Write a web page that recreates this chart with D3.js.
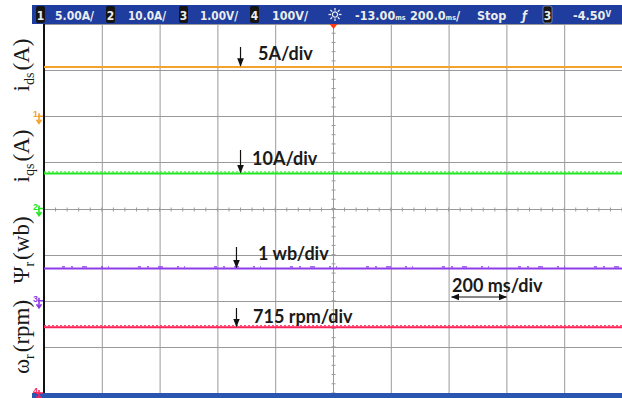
<!DOCTYPE html>
<meta charset="utf-8">
<style>
body { margin: 0; background: #fff; }
svg { display: block; }
.grid line { stroke: #9a9a9a; stroke-width: 1; }
.hdr { font: bold 12.5px "DejaVu Sans Condensed", sans-serif; fill: #ececec; }
.ann { font: bold 18px Lato, sans-serif; fill: #1a1a1a; }
.ylab { font: 23px "Liberation Serif", serif; fill: #1a1a1a; }
</style>
<body>
<svg width="622" height="398"></svg>
<script src="https://d3js.org/d3.v7.min.js"></script>
<script>
// channel info, as shown on the scope
var channels = ["1", "2", "3", "4"];
var chColors = ["#f5a32c", "#22e622", "#8c3ce8", "#ff2257"];
var boxDigitColors = ["#d8d800", "#22cc22", "#2a3a9a", "#ee2222"];
var scaleLabels = ["5.00A/", "10.0A/", "1.00V/", "100V/"];
var statusLabels = ["-13.00", "200.0", "Stop", "\u0192", "3", "-4.50"];

// traces: value in physical units, scale per division, ground marker (div)
var traceNames = ["ids", "iqs", "psi", "wr"];
var perDiv = [5, 10, 1, 715];
var groundDiv = [2, 0, -2, -4];
var ids = [[0, 5.35], [10, 5.35]];
var iqs = [[0, 7.6], [10, 7.6]];
var psi = [[0, 0.70], [10, 0.70]];
var wr = [[0, 1020], [10, 1020]];
var traces = [ids, iqs, psi, wr];

var annLabels = ["5A/div", "10A/div", "1 wb/div", "715 rpm/div"];
var timeLabel = "200 ms/div";
var yLabels = [["i", "ds", "(A)"], ["i", "qs", "(A)"], ["\u03a8", "r", "(wb)"], ["\u03c9", "r", "(rpm)"]];

var xTicks = [0, 1, 2, 3, 4, 5, 6, 7, 8, 9, 10];
var yTicks = [-4, -3, -2, -1, 0, 1, 2, 3, 4];

var svg = d3.select("svg");
var x = d3.scaleLinear().domain([0, 10]).range([44, 622]);
var y = d3.scaleLinear().domain([-4, 4]).range([393, 24]);

// grid
var grid = svg.append("g").attr("class", "grid");
grid.selectAll(".v").data(xTicks).enter().append("line")
    .attr("x1", function(d) { return x(d) + 0.5; }).attr("x2", function(d) { return x(d) + 0.5; })
    .attr("y1", y(4)).attr("y2", y(-4));
grid.selectAll(".h").data(yTicks).enter().append("line")
    .attr("y1", function(d) { return Math.round(y(d)) + 0.5; }).attr("y2", function(d) { return Math.round(y(d)) + 0.5; })
    .attr("x1", x(0)).attr("x2", x(10));

// minor ticks on the centre lines
var cx = x(5) + 0.5, cy = Math.round(y(0)) + 0.5;
grid.selectAll(".mx").data(d3.range(0, 10.001, 0.2)).enter().append("line")
    .attr("x1", function(d) { return x(d); }).attr("x2", function(d) { return x(d); })
    .attr("y1", cy - 2).attr("y2", cy + 2);
grid.selectAll(".my").data(d3.range(-4, 4.001, 0.2)).enter().append("line")
    .attr("y1", function(d) { return y(d); }).attr("y2", function(d) { return y(d); })
    .attr("x1", cx - 2).attr("x2", cx + 2);

// left frame
svg.append("line").attr("x1", 44).attr("x2", 44).attr("y1", 24).attr("y2", 393)
    .attr("stroke", "#111").attr("stroke-width", 2);

// traces
var line = d3.line()
    .x(function(d) { return x(d[0]); });
traces.forEach(function(tr, i) {
  line.y(function(d) { return y(groundDiv[i] + d[1] / perDiv[i]); });
  svg.append("path").attr("d", line(tr)).attr("fill", "none")
      .attr("stroke", chColors[i]).attr("stroke-width", 2);
  // ripple texture
  if (i == 1 || i == 3) {
    svg.append("path").attr("d", line(tr)).attr("fill", "none")
        .attr("transform", "translate(0,-1.5)")
        .attr("stroke", chColors[i]).attr("stroke-width", 1)
        .attr("stroke-dasharray", "2,2");
  }
  if (i == 2) {
    svg.append("path").attr("d", line(tr)).attr("fill", "none")
        .attr("transform", "translate(0,-1.5)")
        .attr("stroke", chColors[i]).attr("stroke-width", 1.2)
        .attr("stroke-dasharray", "0,18,3,6,2,9,5,14,2,5,1,11");
  }
});

// header bar
svg.append("rect").attr("x", 32).attr("y", 5).attr("width", 590).attr("height", 19).attr("fill", "#1e3d9f");
var boxX = [36, 106, 179, 250];
var textX = [55, 128, 200, 272];
var textW = [39, 38, 38, 36];
channels.forEach(function(c, i) {
  svg.append("rect").attr("x", boxX[i]).attr("y", 6).attr("width", 9).attr("height", 17).attr("rx", 2).attr("fill", "#151515");
  svg.append("text").attr("class", "hdr").attr("x", boxX[i] + 4.5).attr("y", 19.5)
      .attr("text-anchor", "middle").style("font-size", "12px").attr("fill", boxDigitColors[i]).text(c);
  svg.append("text").attr("class", "hdr").attr("x", textX[i]).attr("y", 19.5)
      .attr("textLength", textW[i]).attr("lengthAdjust", "spacingAndGlyphs").text(scaleLabels[i]);
});
// sun icon
var sun = svg.append("g").attr("transform", "translate(335,14.5)").attr("stroke", "#ececec").attr("stroke-width", 1.3);
sun.append("circle").attr("r", 2.6).attr("fill", "none");
d3.range(8).forEach(function(k) {
  var a = k * Math.PI / 4;
  sun.append("line").attr("x1", 4 * Math.cos(a)).attr("y1", 4 * Math.sin(a))
      .attr("x2", 6.5 * Math.cos(a)).attr("y2", 6.5 * Math.sin(a));
});
// status items: one text element each, small unit in a tspan
var s1 = svg.append("text").attr("class", "hdr").attr("x", 355).attr("y", 19.5);
s1.append("tspan").text(statusLabels[0]);
s1.append("tspan").text("ms").style("font-size", "7px");
var s2 = svg.append("text").attr("class", "hdr").attr("x", 410).attr("y", 19.5);
s2.append("tspan").text(statusLabels[1]);
s2.append("tspan").text("ms").style("font-size", "7px");
s2.append("tspan").text("/");
svg.append("text").attr("class", "hdr").attr("x", 477).attr("y", 19.5).text(statusLabels[2]);
svg.append("text").attr("class", "hdr").attr("x", 522).attr("y", 19.5).style("font-style", "italic").text(statusLabels[3]);
svg.append("rect").attr("x", 543).attr("y", 6).attr("width", 9).attr("height", 17).attr("rx", 2).attr("fill", "#151515")
    .attr("stroke", "#bbb").attr("stroke-width", 0.6);
svg.append("text").attr("class", "hdr").attr("x", 547.5).attr("y", 19.5).attr("text-anchor", "middle")
    .style("font-size", "12px").attr("fill", "#2a3a9a").text(statusLabels[4]);
var s3 = svg.append("text").attr("class", "hdr").attr("x", 573).attr("y", 19.5);
s3.append("tspan").text(statusLabels[5]);
s3.append("tspan").text("V").style("font-size", "8px").attr("dy", -3);

// trigger marker
svg.append("path").attr("d", "M" + (x(5) - 3.5) + ",24 L" + (x(5) + 4.5) + ",24 L" + (x(5) + 0.5) + ",29 Z").attr("fill", "#ff3c10");

// bottom bar
svg.append("rect").attr("x", 32).attr("y", 393).attr("width", 590).attr("height", 5).attr("fill", "#2a55b0");

// ground markers on the left
channels.forEach(function(c, i) {
  var gy = y(groundDiv[i]);
  var g = svg.append("g").attr("transform", "translate(0," + gy + ")").attr("fill", chColors[i]);
  g.append("text").attr("x", 33).attr("y", 1).style("font", "bold 9px sans-serif").text(c);
  g.append("path").attr("d", "M39,-3 L39,6 M36.5,3.5 L39,7 L41.5,3.5 M38,0 L43,0")
      .attr("stroke", chColors[i]).attr("stroke-width", 1.6).attr("fill", "none");
});

// y labels
var labelY = [65, 156, 250, 337];
yLabels.forEach(function(l, i) {
  var t = svg.append("text").attr("class", "ylab").attr("text-anchor", "middle")
      .attr("transform", "translate(29," + labelY[i] + ") rotate(-90)");
  t.append("tspan").text(l[0]);
  t.append("tspan").text(l[1]).style("font-size", "14px").attr("dy", 5);
  t.append("tspan").text(l[2]).attr("dy", -5).attr("dx", 2);
});

// annotations with arrows
var defs = svg.append("defs");
defs.append("marker").attr("id", "ah").attr("viewBox", "0 0 10 10").attr("refX", 9).attr("refY", 5)
    .attr("markerWidth", 7).attr("markerHeight", 7).attr("orient", "auto-start-reverse")
  .append("path").attr("d", "M0,1 L10,5 L0,9 Z").attr("fill", "#111");
var annX = [3.4, 3.4, 3.33, 3.33];
var annTop = [47, 150, 247, 308];
var annTextX = [258, 252, 258, 253];
var annBase = [60, 165, 260, 323];
annLabels.forEach(function(l, i) {
  var tipY = y(groundDiv[i] + traces[i][0][1] / perDiv[i]) - 1;
  svg.append("line").attr("x1", x(annX[i])).attr("x2", x(annX[i])).attr("y1", annTop[i]).attr("y2", tipY)
      .attr("stroke", "#111").attr("stroke-width", 1.2).attr("marker-end", "url(#ah)");
  svg.append("text").attr("class", "ann").attr("x", annTextX[i]).attr("y", annBase[i]).text(l);
});
svg.append("text").attr("class", "ann").attr("x", 452).attr("y", 292).text(timeLabel);
svg.append("line").attr("x1", x(7) + 3).attr("x2", x(8)).attr("y1", 297).attr("y2", 297)
    .attr("stroke", "#111").attr("stroke-width", 1.2)
    .attr("marker-start", "url(#ah)").attr("marker-end", "url(#ah)");
</script>
</body>
